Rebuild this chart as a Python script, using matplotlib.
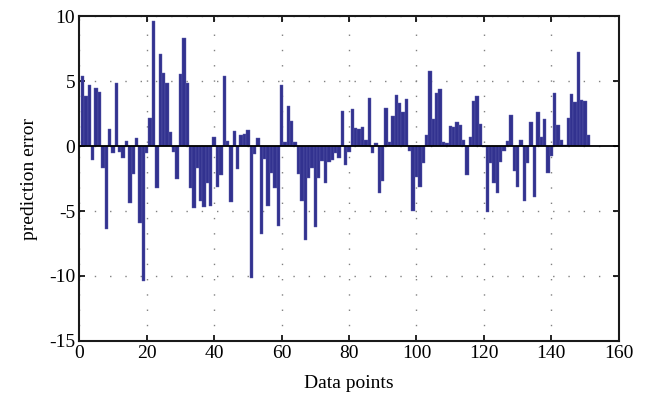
import numpy as np
import matplotlib.pyplot as plt

# prediction error per data point
err_1_40 = [5.4, 3.85, 4.7, -1.08, 4.44, 4.18, -1.72, -6.38, 1.28, -0.56,
            4.85, -0.44, -0.9, 0.38, -4.4, -2.15, 0.59, -5.95, -10.36, -0.56,
            2.18, 9.6, -3.2, 7.05, 5.6, 4.87, 1.05, -0.44, -2.5, 5.54,
            8.33, 4.82, -3.26, -4.74, -1.72, -4.23, -4.67, -2.87, -4.6, 0.67]
err_41_80 = [-3.18, -2.23, 5.38, 0.38, -4.33, 1.15, -1.8, 0.82, 0.92, 1.23,
             -10.18, -0.64, 0.62, -6.8, -1.0, -4.6, -2.1, -3.2, -6.15, 4.7,
             0.33, 3.1, 1.92, 0.28, -2.18, -4.23, -7.23, -2.49, -1.67, -6.26,
             -2.44, -1.15, -2.87, -1.2, -1.08, -0.56, -0.95, 2.72, -1.46, -0.49]
err_81_120 = [2.85, 1.38, 1.28, 1.44, 0.46, 3.69, -0.51, 0.2, -3.59, -2.67,
              2.9, 0.28, 2.31, 3.92, 3.33, 2.64, 3.62, -0.36, -4.97, -2.36,
              -3.13, -1.33, 0.85, 5.77, 2.1, 4.05, 4.36, 0.33, 0.2, 1.56,
              1.44, 1.82, 1.62, 0.46, -2.23, 0.72, 3.46, 3.85, 1.67, -0.1]
err_121_151 = [-5.05, -1.28, -2.87, -3.59, -1.2, -0.38, 0.38, 2.38, -1.92, -3.13,
               0.46, -4.23, -1.33, 1.82, -3.95, 2.64, 0.67, 2.05, -2.1, -0.74,
               4.05, 1.62, 0.46, 0.08, 2.13, 4.0, 3.36, 7.26, 3.56, 3.46,
               0.85]

err = np.array(err_1_40 + err_41_80 + err_81_120 + err_121_151)
idx = np.arange(1, len(err) + 1)

plt.rcParams['font.family'] = ['Liberation Serif', 'DejaVu Serif']
plt.rcParams['axes.unicode_minus'] = False

fig = plt.figure(figsize=(6.5, 4.03), dpi=100)
ax = fig.add_axes([0.122, 0.154, 0.83, 0.806])

ax.bar(idx, err, width=1.0, color='#32328f', edgecolor='#5c5cad', linewidth=0.3, zorder=2)
ax.axhline(0, color='black', linewidth=1.3, zorder=3)

ax.set_xlim(0, 160)
ax.set_ylim(-15, 10)
ax.set_xticks(np.arange(0, 161, 20))
ax.set_yticks(np.arange(-15, 11, 5))
ax.grid(True, color='#808080', linestyle=(0, (1, 10)), linewidth=1.0, zorder=0)
ax.tick_params(direction='in', top=True, right=True, labelsize=14, length=4, width=1.2, pad=3)
for s in ax.spines.values():
    s.set_linewidth(1.5)
    s.set_color('#1a1a1a')

ax.set_xlabel('Data points', fontsize=14, labelpad=9)
ax.set_ylabel('prediction error', fontsize=14, labelpad=8)

fig.savefig('out.png', dpi=100)
